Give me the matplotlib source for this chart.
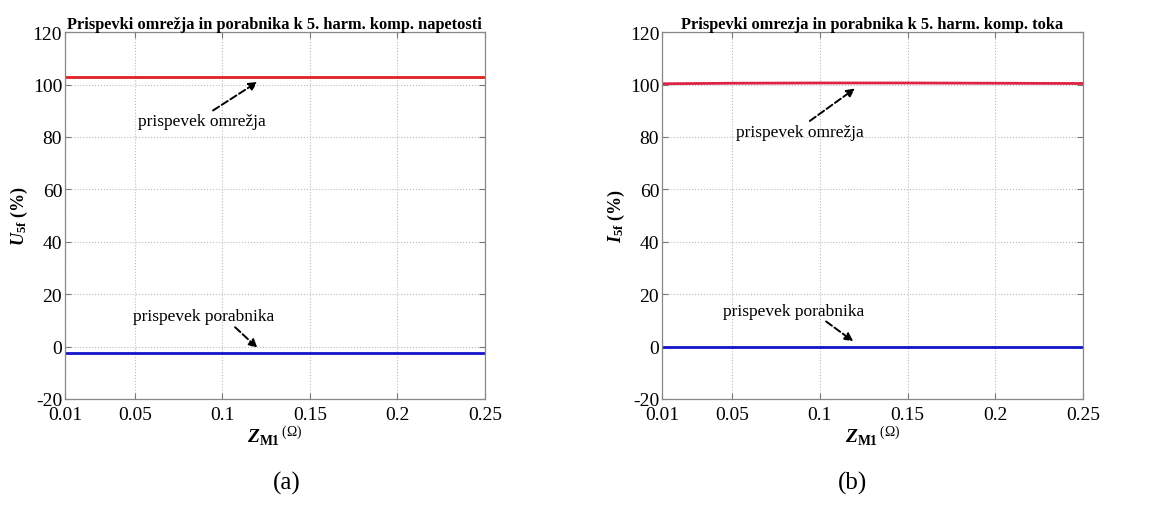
import matplotlib
matplotlib.use("Agg")
import matplotlib.pyplot as plt

plt.rcParams['font.family'] = ['Liberation Serif', 'DejaVu Serif']
plt.rcParams['mathtext.fontset'] = 'custom'
plt.rcParams['mathtext.rm'] = 'Liberation Serif'
plt.rcParams['mathtext.it'] = 'Liberation Serif:italic'
plt.rcParams['mathtext.bf'] = 'Liberation Serif:bold'
plt.rcParams['mathtext.bfit'] = 'Liberation Serif:bold:italic'
plt.rcParams['axes.unicode_minus'] = False

# impedance sweep Z_M1 (ohm)
zm = [0.01, 0.05, 0.1, 0.15, 0.2, 0.25]
# 5th harmonic voltage contributions (%)
u_grid = [102.7, 102.7, 102.7, 102.7, 102.7, 102.7]
u_load = [-2.6, -2.6, -2.6, -2.6, -2.6, -2.6]
# 5th harmonic current contributions (%)
i_grid = [100.3, 100.5, 100.6, 100.6, 100.5, 100.4]
i_load = [-0.2, -0.2, -0.2, -0.2, -0.2, -0.2]

xticks = [0.01, 0.05, 0.1, 0.15, 0.2, 0.25]
xticklabels = ['0.01', '0.05', '0.1', '0.15', '0.2', '0.25']
yticks = [-20, 0, 20, 40, 60, 80, 100, 120]

fig = plt.figure(figsize=(11.6, 5.06), dpi=100)
ax1 = fig.add_axes([0.056, 0.2095, 0.362, 0.725])
ax2 = fig.add_axes([0.5707, 0.2095, 0.363, 0.725])


def style_axes(ax, title, ylabel):
    ax.set_xlim(0.01, 0.25)
    ax.set_ylim(-20, 120)
    ax.set_xticks(xticks)
    ax.set_xticklabels(xticklabels)
    ax.set_yticks(yticks)
    ax.tick_params(direction='in', top=True, right=True, length=4,
                   color='#777777', labelsize=14, pad=2)
    ax.tick_params(axis='x', pad=5)
    for s in ax.spines.values():
        s.set_color('#888888')
        s.set_linewidth(0.9)
    ax.grid(True, linestyle=':', color='#bbbbbb', linewidth=0.8)
    ax.set_title(title, fontsize=11.8, fontweight='bold', pad=3)
    ax.set_ylabel(ylabel, fontsize=13, labelpad=2)
    ax.set_xlabel(r'$\mathbfit{Z}_{\mathbf{M1}}\,{}^{\rm{(\Omega)}}$',
                  fontsize=14, labelpad=0)


def note(ax, text, head, tail, rel):
    ax.annotate(text, xy=head, xytext=tail, fontsize=12.5, va='center',
                arrowprops=dict(arrowstyle='-|>', linestyle='--', color='black',
                                lw=1.4, shrinkA=0, shrinkB=0,
                                relpos=rel, mutation_scale=12))


ax1.plot(zm, u_grid, color='#dd2222', lw=2)
ax1.plot(zm, u_load, color='#1414c8', lw=2)
style_axes(ax1, 'Prispevki omrežja in porabnika k 5. harm. komp. napetosti',
           r'$\mathbfit{U}_{\mathbf{5f}}\ \mathbf{(\%)}$')
note(ax1, 'prispevek omrežja', (0.12, 101), (0.052, 86), (0.55, 1.0))
note(ax1, 'prispevek porabnika', (0.12, -0.5), (0.049, 11.5), (0.7, 0.0))

ax2.plot(zm, i_grid, color='#dd2244', lw=2)
ax2.plot(zm, i_load, color='#1414c8', lw=2)
style_axes(ax2, 'Prispevki omrezja in porabnika k 5. harm. komp. toka',
           r'$\mathbfit{I}_{\mathbf{5f}}\ \mathbf{(\%)}$')
note(ax2, 'prispevek omrežja', (0.12, 98.5), (0.052, 82), (0.55, 1.0))
note(ax2, 'prispevek porabnika', (0.119, 2), (0.045, 13.7), (0.7, 0.0))

fig.text(0.247, 0.045, '(a)', fontsize=18, ha='center', va='center')
fig.text(0.735, 0.045, '(b)', fontsize=18, ha='center', va='center')

fig.savefig('out.png', dpi=100)
